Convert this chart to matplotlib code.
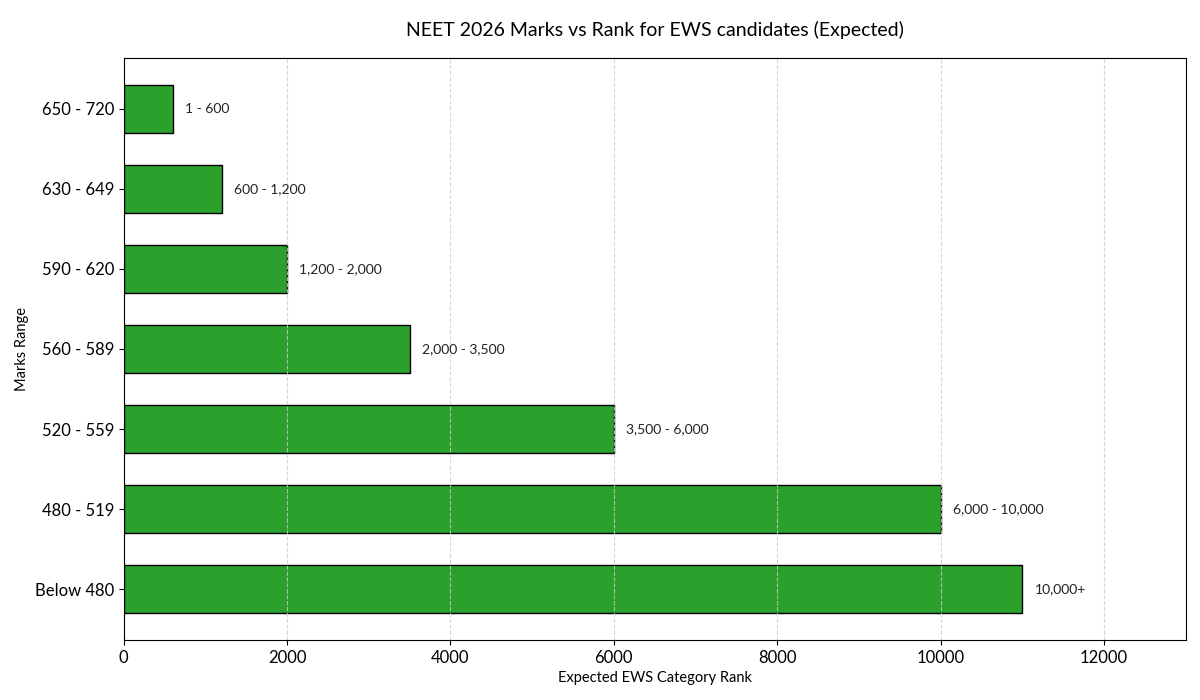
import matplotlib
matplotlib.use("Agg")
import matplotlib.pyplot as plt

plt.rcParams['font.family'] = ['Lato', 'DejaVu Sans']

marks = ["Below 480", "480 - 519", "520 - 559", "560 - 589", "590 - 620", "630 - 649", "650 - 720"]
rank_upper = [11000, 10000, 6000, 3500, 2000, 1200, 600]
rank_labels = ["10,000+", "6,000 - 10,000", "3,500 - 6,000", "2,000 - 3,500",
               "1,200 - 2,000", "600 - 1,200", "1 - 600"]

fig, ax = plt.subplots(figsize=(12, 7), dpi=100)
ax.barh(marks, rank_upper, height=0.6, color='#2ca02c', edgecolor='black', linewidth=1)

for i, (v, lab) in enumerate(zip(rank_upper, rank_labels)):
    ax.text(v + 150, i, lab, va='center', ha='left', fontsize=10, color='#222222')

ax.set_xlim(0, 13000)
ax.set_xticks([0, 2000, 4000, 6000, 8000, 10000, 12000])
ax.grid(axis='x', linestyle='--', color='#cccccc', alpha=0.8)
ax.tick_params(axis='both', labelsize=12)
ax.set_xlabel("Expected EWS Category Rank", fontsize=10.5)
ax.set_ylabel("Marks Range", fontsize=10.5)
ax.set_title("NEET 2026 Marks vs Rank for EWS candidates (Expected)", fontsize=14, pad=16)

plt.subplots_adjust(left=0.103, right=0.988, top=0.917, bottom=0.086)
plt.savefig("out.png", dpi=100)
